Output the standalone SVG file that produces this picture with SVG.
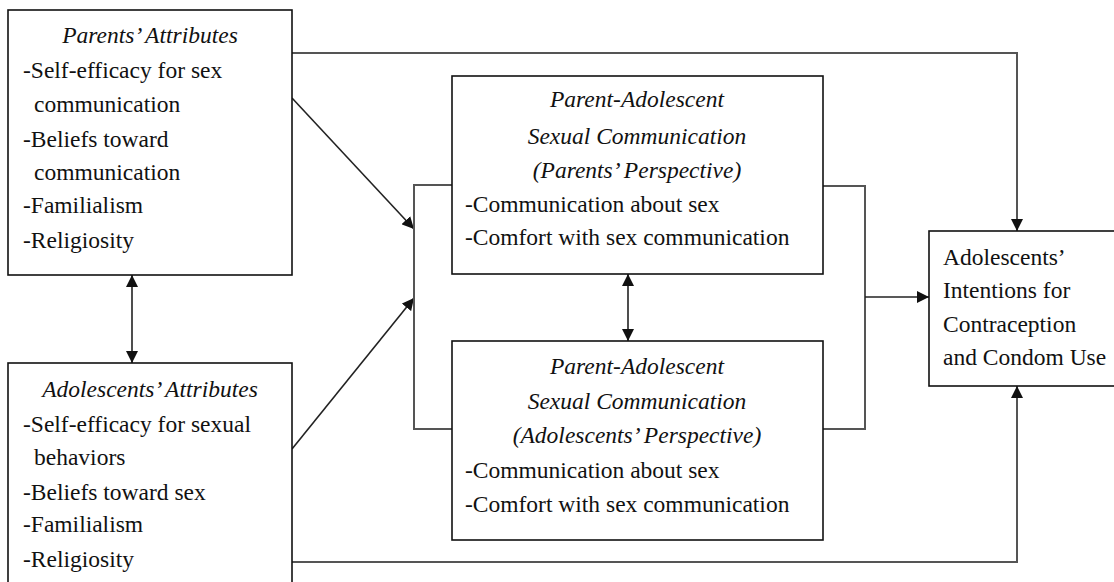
<svg xmlns="http://www.w3.org/2000/svg" width="1114" height="582" viewBox="0 0 1114 582">
<style>
.box{fill:#fff;stroke:#111;stroke-width:1.6}
.t{font-family:"Liberation Serif","Times New Roman",serif;font-size:23.5px;fill:#111}
.i{font-style:italic}
.c{stroke:#555;stroke-width:2;fill:none}
.d{stroke:#222;stroke-width:1.6;fill:none}
</style>
<defs>
<marker id="ah" viewBox="0 0 12 12" refX="12" refY="6" markerWidth="12" markerHeight="12" markerUnits="userSpaceOnUse" orient="auto-start-reverse">
<path d="M0,0 L12,6 L0,12 z" fill="#111"/>
</marker>
</defs>
<rect width="1114" height="582" fill="#fff"/>
<g id="connectors">
<path class="c" d="M292,53 H1017 V231" marker-end="url(#ah)"/>
<path class="d" d="M292,98 L414,229" marker-end="url(#ah)"/>
<path class="d" d="M292,449 L414,298" marker-end="url(#ah)"/>
<path class="c" d="M452,185 H414 V429 H452"/>
<path class="c" d="M823,186 H865 V429 H823"/>
<path class="d" d="M865,297 H929" marker-end="url(#ah)"/>
<path class="c" d="M292,562 H1017 V386" marker-end="url(#ah)"/>
<path class="d" d="M132,275 V363" marker-start="url(#ah)" marker-end="url(#ah)"/>
<path class="d" d="M628,274 V341" marker-start="url(#ah)" marker-end="url(#ah)"/>
</g>
<g id="parents-attributes">
<rect class="box" x="8" y="10" width="284" height="265"/>
<text class="t i" x="150" y="43" text-anchor="middle">Parents’ Attributes</text>
<text class="t" x="23" y="78">-Self-efficacy for sex</text>
<text class="t" x="34" y="112">communication</text>
<text class="t" x="23" y="147">-Beliefs toward</text>
<text class="t" x="34" y="180">communication</text>
<text class="t" x="23" y="213">-Familialism</text>
<text class="t" x="23" y="248">-Religiosity</text>
</g>
<g id="adolescents-attributes">
<rect class="box" x="8" y="363" width="284" height="240"/>
<text class="t i" x="150" y="397" text-anchor="middle">Adolescents’ Attributes</text>
<text class="t" x="23" y="432">-Self-efficacy for sexual</text>
<text class="t" x="34" y="465">behaviors</text>
<text class="t" x="23" y="500">-Beliefs toward sex</text>
<text class="t" x="23" y="532">-Familialism</text>
<text class="t" x="23" y="567">-Religiosity</text>
</g>
<g id="communication-parents">
<rect class="box" x="452" y="76" width="371" height="198"/>
<text class="t i" x="637" y="107" text-anchor="middle">Parent-Adolescent</text>
<text class="t i" x="637" y="144" text-anchor="middle">Sexual Communication</text>
<text class="t i" x="637" y="178" text-anchor="middle">(Parents’ Perspective)</text>
<text class="t" x="465" y="212">-Communication about sex</text>
<text class="t" x="465" y="245">-Comfort with sex communication</text>
</g>
<g id="communication-adolescents">
<rect class="box" x="452" y="341" width="371" height="199"/>
<text class="t i" x="637" y="374" text-anchor="middle">Parent-Adolescent</text>
<text class="t i" x="637" y="409" text-anchor="middle">Sexual Communication</text>
<text class="t i" x="637" y="443" text-anchor="middle">(Adolescents’ Perspective)</text>
<text class="t" x="465" y="478">-Communication about sex</text>
<text class="t" x="465" y="512">-Comfort with sex communication</text>
</g>
<g id="intentions">
<rect class="box" x="929" y="231" width="200" height="155"/>
<text class="t" x="943" y="265">Adolescents’</text>
<text class="t" x="943" y="298">Intentions for</text>
<text class="t" x="943" y="332">Contraception</text>
<text class="t" x="943" y="365">and Condom Use</text>
</g>
</svg>
